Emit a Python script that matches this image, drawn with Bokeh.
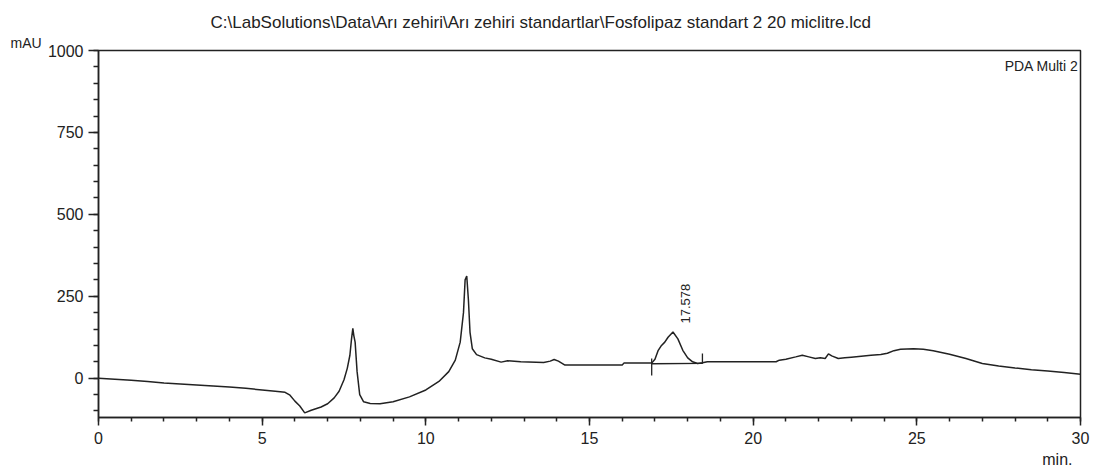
import numpy as np
from bokeh.plotting import figure
from bokeh.models import Range1d, FixedTicker, Label, Title
from bokeh.embed import file_html
from bokeh.resources import INLINE

title_text = "C:\\LabSolutions\\Data\\Arı zehiri\\Arı zehiri standartlar\\Fosfolipaz standart 2 20 miclitre.lcd"
x_ticks = [0, 5, 10, 15, 20, 25, 30]
y_ticks = [0, 250, 500, 750, 1000]

time_min = [0.0, 0.5, 1.0, 1.5, 2.0, 2.5, 3.0, 3.5, 4.0, 4.5, 5.0, 5.4, 5.7, 5.85, 6.0, 6.15, 6.3,
            6.5, 6.8, 7.0, 7.2, 7.35, 7.5, 7.6, 7.68, 7.73, 7.77, 7.8, 7.84, 7.9, 7.98, 8.1, 8.3,
            8.6, 9.0, 9.5, 10.0, 10.4, 10.7, 10.9, 11.05, 11.15, 11.2, 11.25, 11.3, 11.35, 11.42,
            11.55, 11.8, 12.0, 12.3, 12.5, 12.9, 13.6, 13.8, 13.92, 14.05, 14.25, 16.0, 16.05,
            16.9, 17.0, 17.1, 17.2, 17.3, 17.4, 17.55, 17.7, 17.85, 18.0, 18.15, 18.3, 18.45,
            18.6, 19.0, 20.7, 20.8, 21.0, 21.3, 21.5, 21.7, 21.9, 22.05, 22.2, 22.3, 22.4, 22.6,
            22.8, 23.0, 23.3, 23.6, 23.9, 24.1, 24.3, 24.5, 24.9, 25.2, 25.5, 26.0, 26.5, 27.0,
            27.5, 28.0, 28.5, 29.0, 29.5, 30.0]
absorbance_mau = [0, -3, -6, -10, -15, -18, -21, -24, -27, -31, -36, -40, -43, -52, -70, -85, -106,
                  -98, -88, -78, -60, -40, -5, 30, 70, 120, 152, 130, 110, 20, -50, -72, -77,
                  -78, -72, -57, -36, -10, 20, 55, 110, 200, 300, 312, 240, 140, 90,
                  72, 62, 58, 49, 53, 50, 48, 52, 57, 52, 40, 40, 46,
                  46, 58, 85, 100, 110, 125, 141, 120, 85, 62, 50, 45, 47,
                  50, 50, 50, 55, 58, 65, 70, 65, 60, 62, 60, 74, 68, 60,
                  62, 64, 67, 70, 72, 76, 84, 88, 90, 88, 84, 73, 60, 45,
                  37, 31, 26, 22, 17, 12]

# integration baseline and peak start/end markers
peak_base_t = [16.9, 18.45]
peak_base_v = [44, 45]
marker_t = [16.9, 18.45]
marker_v0 = [8, 44]
marker_v1 = [60, 75]
peak_rt_label = "17.578"
peak_label_t = 17.93
peak_label_v = 167

FONT = "Liberation Sans"
INK = "#222222"

p = figure(width=1096, height=469, output_backend="svg", toolbar_location=None,
           x_range=Range1d(0, 30), y_range=Range1d(-120, 1000), title=None,
           min_border_left=98, min_border_right=16, min_border_top=50, min_border_bottom=52)
p.background_fill_color = "white"
p.border_fill_color = "white"
p.outline_line_color = INK
p.outline_line_width = 1.5
p.xgrid.visible = False
p.ygrid.visible = False

p.line(time_min, absorbance_mau, line_color=INK, line_width=1.5)
p.line(peak_base_t, peak_base_v, line_color=INK, line_width=1.3)
p.segment(x0=marker_t, y0=marker_v0, x1=marker_t, y1=marker_v1, line_color=INK, line_width=1.3)

for ax in (p.xaxis[0], p.yaxis[0]):
    ax.axis_line_color = INK
    ax.axis_line_width = 1.5
    ax.major_tick_line_color = INK
    ax.minor_tick_line_color = INK
    ax.major_tick_line_width = 1.5
    ax.minor_tick_line_width = 1.5
    ax.major_tick_in = 0
    ax.minor_tick_in = 0
    ax.major_label_text_font = FONT
    ax.major_label_text_font_size = "16px"
    ax.major_label_text_color = INK

p.xaxis.ticker = FixedTicker(ticks=x_ticks, minor_ticks=list(range(0, 31)))
p.yaxis.ticker = FixedTicker(ticks=y_ticks, minor_ticks=list(range(-100, 1001, 50)))
p.xaxis.major_tick_out = 8
p.xaxis.minor_tick_out = 4
p.xaxis.major_label_standoff = 6
p.yaxis.major_tick_out = 10
p.yaxis.minor_tick_out = 5
p.yaxis.major_label_standoff = 5

# texts outside the frame as titles (labels are clipped to the frame)
mau_title = Title(text="mAU", align="left", offset=-88, text_font=FONT, text_font_size="14px",
                  text_font_style="normal", text_color=INK, standoff=0)
file_title = Title(text=title_text, align="left", offset=112, text_font=FONT, text_font_size="17px",
                   text_font_style="normal", text_color=INK, standoff=2)
p.add_layout(mau_title, "above")
p.add_layout(file_title, "above")
min_title = Title(text="min.", align="right", offset=8, text_font=FONT, text_font_size="16px",
                  text_font_style="normal", text_color=INK, standoff=4)
p.add_layout(min_title, "below")

def add_label(x, y, text, size, align="left", baseline="alphabetic", angle=0.0):
    p.add_layout(Label(x=x, y=y, text=text, text_font=FONT, text_font_size=size,
                       text_color=INK, text_align=align, text_baseline=baseline, angle=angle))

add_label(29.94, 954, "PDA Multi 2", "14px", align="right")
add_label(peak_label_t, peak_label_v, peak_rt_label, "13px", baseline="middle", angle=np.pi / 2)

open("out.html", "w").write(file_html(p, INLINE))
